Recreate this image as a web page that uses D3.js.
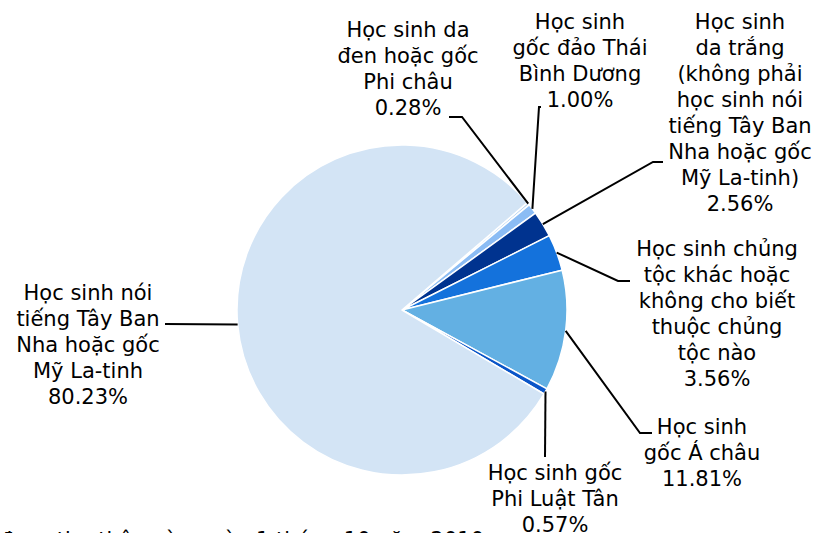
<!DOCTYPE html>
<html><head><meta charset="utf-8">
<script src="https://cdn.jsdelivr.net/npm/d3@7"></script>
<style>html,body{margin:0;padding:0;background:#fff;overflow:hidden}</style>
</head><body>
<svg id="chart" width="814" height="533"></svg>
<script>
// Data
const categories = [
  "Học sinh da đen hoặc gốc Phi châu",
  "Học sinh gốc đảo Thái Bình Dương",
  "Học sinh da trắng (không phải học sinh nói tiếng Tây Ban Nha hoặc gốc Mỹ La-tinh)",
  "Học sinh chủng tộc khác hoặc không cho biết thuộc chủng tộc nào",
  "Học sinh gốc Á châu",
  "Học sinh gốc Phi Luật Tân",
  "Học sinh nói tiếng Tây Ban Nha hoặc gốc Mỹ La-tinh"
];
const values = [0.28, 1.00, 2.56, 3.56, 11.81, 0.57, 80.23];
const labelLines = [
  ["Học sinh da", "đen hoặc gốc", "Phi châu"],
  ["Học sinh", "gốc đảo Thái", "Bình Dương"],
  ["Học sinh", "da trắng", "(không phải", "học sinh nói", "tiếng Tây Ban", "Nha hoặc gốc", "Mỹ La-tinh)"],
  ["Học sinh chủng", "tộc khác hoặc", "không cho biết", "thuộc chủng", "tộc nào"],
  ["Học sinh", "gốc Á châu"],
  ["Học sinh gốc", "Phi Luật Tân"],
  ["Học sinh nói", "tiếng Tây Ban", "Nha hoặc gốc", "Mỹ La-tinh"]
];
const footnote = "Số liệu được thu thập vào ngày 1 tháng 10 năm 2010";

// Styles / layout (not data)
const colors = ["#b9d5f3", "#8bbcf4", "#00338f", "#1472dc", "#63b0e3", "#0a55c8", "#d3e4f5"];
// label centre x, first baseline y, leader elbow points
const labelLayout = [
  {x: 408, y: 37, elbow: [[462, 117], [449, 117]]},
  {x: 580, y: 29, elbow: [[539, 107], [541, 107]]},
  {x: 740, y: 29, elbow: [[653, 162], [663, 162]]},
  {x: 717, y: 256, elbow: [[618, 281], [630, 281]]},
  {x: 702, y: 434, elbow: [[640, 433], [652, 433]]},
  {x: 555, y: 480, elbow: [[545, 457]]},
  {x: 88, y: 300, elbow: [[165, 324]]}
];
const lineH = 26;
const fontSize = 21;

const W = 814, H = 533;
const cx = 402, cy = 310, R = 165;
const startDeg = 49.4;

const svg = d3.select("#chart");
const g = svg.append("g").attr("transform", `translate(${cx},${cy})`);

const data = categories.map((c, i) => ({name: c, value: values[i], i}));
const pie = d3.pie().value(d => d.value).sort(null)
  .startAngle(startDeg * Math.PI / 180)
  .endAngle(startDeg * Math.PI / 180 + 2 * Math.PI);
const arcs = pie(data);
const arc = d3.arc().innerRadius(0).outerRadius(R);

g.selectAll("path.slice").data(arcs).enter().append("path")
  .attr("class", "slice")
  .attr("d", arc)
  .attr("fill", d => colors[d.data.i])
  .attr("stroke", "#fff")
  .attr("stroke-width", 1.5)
  .attr("stroke-linejoin", "round");

// leader lines
const edge = d3.arc().innerRadius(R).outerRadius(R);
arcs.forEach(a => {
  const p = edge.centroid(a);
  const pts = [[cx + p[0], cy + p[1]]].concat(labelLayout[a.data.i].elbow);
  svg.append("path")
    .attr("d", d3.line()(pts))
    .attr("fill", "none")
    .attr("stroke", "#000")
    .attr("stroke-width", 2);
});

// labels
arcs.forEach(a => {
  const L = labelLayout[a.data.i];
  const lines = labelLines[a.data.i].concat([d3.format(".2f")(a.data.value) + "%"]);
  const t = svg.append("text")
    .attr("text-anchor", "middle")
    .attr("font-family", "'DejaVu Sans', Verdana, sans-serif")
    .attr("font-size", fontSize)
    .attr("fill", "#000");
  lines.forEach((ln, k) => {
    t.append("tspan").attr("x", L.x).attr("y", L.y + k * lineH).text(ln);
  });
});

svg.append("text")
  .attr("x", 484).attr("y", 547)
  .attr("text-anchor", "end")
  .attr("font-family", "'DejaVu Sans', Verdana, sans-serif")
  .attr("font-size", fontSize)
  .text(footnote);
</script>
</body></html>
